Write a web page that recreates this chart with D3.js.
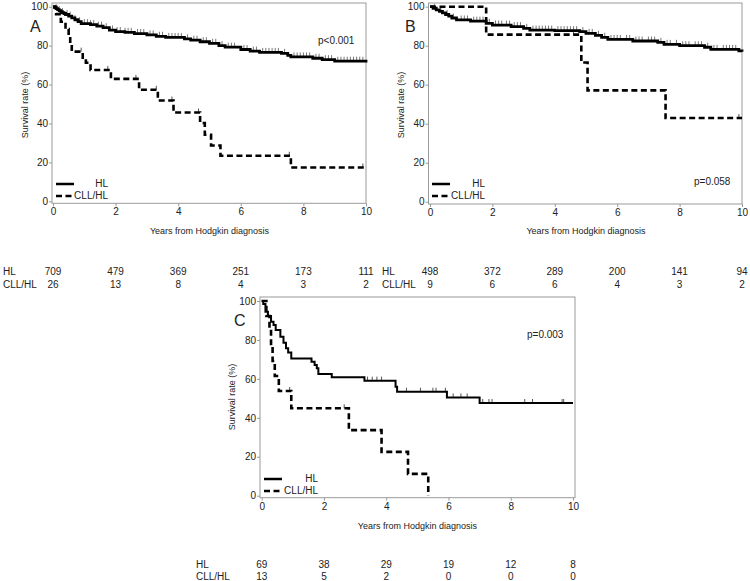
<!DOCTYPE html>
<html>
<head>
<meta charset="utf-8">
<script src="https://cdn.jsdelivr.net/npm/d3@7"></script>
<style>
  html, body { margin: 0; padding: 0; background: #fff; }
  svg { display: block; font-family: "Liberation Sans Narrow", "Liberation Sans", Arial, sans-serif; }
</style>
</head>
<body>
<svg id="chart" width="750" height="581"></svg>
<script>
// ---------- DATA ----------
const timeTicks = [0, 2, 4, 6, 8, 10];
const survTicks = [0, 20, 40, 60, 80, 100];
const groupNames = ["HL", "CLL/HL"];
const panelLetters = ["A", "B", "C"];
const pValues = ["p<0.001", "p=0.058", "p=0.003"];
const xTitle = "Years from Hodgkin diagnosis";
const yTitle = "Survival rate (%)";

// Panel A – Kaplan-Meier steps [years, survival %]
const A_hl = [[0,100],[0.05,99.5],[0.1,99],[0.15,98.5],[0.2,98],[0.25,97.5],[0.3,97],[0.35,96.5],[0.4,96],[0.5,95.2],[0.6,94.3],[0.7,93.3],[0.8,92.3],[0.9,91.3],[1.2,90.8],[1.4,90],[1.6,89.2],[1.8,88],[2.0,87.2],[2.3,86.8],[2.6,86.2],[3.0,85.5],[3.3,84.8],[3.6,84.2],[4.2,83.5],[4.4,82.8],[4.7,82],[5.0,81.2],[5.3,80],[5.5,79.2],[6.0,78],[6.3,77.2],[6.6,76.5],[7.3,76],[7.5,75],[7.6,74.2],[8.3,73.5],[8.6,72.8],[9.0,72],[10,71.3]];
const A_cll = [[0,100],[0.1,96.2],[0.25,92.3],[0.4,88.5],[0.5,84.6],[0.55,80.8],[0.6,76.9],[0.95,73.1],[1.05,71.2],[1.2,67.5],[1.85,62.9],[2.75,57.3],[3.35,51.8],[3.85,45.6],[4.7,40.2],[4.85,34.2],[5.05,28.7],[5.35,23.4],[7.6,17.4],[10,17.4]];
const A_hl_censor = [0.1,0.2,0.3,0.45,0.55,0.7,0.85,1.0,1.1,1.2,1.3,1.45,1.55,1.7,1.9,2.05,2.15,2.3,2.4,2.5,2.7,2.8,2.9,3.1,3.2,3.4,3.5,3.7,3.8,3.9,4.0,4.1,4.3,4.5,4.6,4.8,4.9,5.1,5.2,5.4,5.6,5.7,5.8,6.1,6.2,6.4,6.5,6.7,6.8,6.9,7.0,7.1,7.2,7.4,7.7,7.8,7.9,8.0,8.1,8.2,8.4,8.5,8.7,8.8,8.9,9.1,9.2,9.3,9.4,9.5,9.6,9.7,9.8,9.9];
const A_cll_censor = [0.9, 1.75, 2.65, 3.3, 3.8, 4.65, 7.55, 9.9];
const A_risk_hl = [709, 479, 369, 251, 173, 111];
const A_risk_cll = [26, 13, 8, 4, 3, 2];

// Panel B
const B_hl = [[0,100],[0.1,99.2],[0.2,98.4],[0.3,97.6],[0.4,96.8],[0.5,96],[0.6,95.2],[0.7,94.2],[0.85,93.2],[1.3,92.6],[1.8,91.5],[2.0,90.6],[2.6,89.8],[3.0,88.9],[3.2,88],[4.0,87.7],[4.8,87.2],[5.0,86.3],[5.3,85.3],[5.5,84.3],[5.7,83.2],[6.5,82.4],[7.3,81.7],[7.5,80.7],[8.0,80],[8.8,79.2],[9.0,78.1],[9.9,77.3],[10,76.9]];
const B_cll = [[0,100],[1.8,85.7],[4.85,71.4],[5.05,57.1],[7.55,42.9],[10,42.9]];
const B_hl_censor = [0.15,0.35,0.55,0.75,1.0,1.1,1.2,1.4,1.5,1.6,1.7,1.9,2.1,2.2,2.3,2.45,2.55,2.7,2.8,2.9,3.1,3.3,3.4,3.5,3.6,3.7,3.8,3.9,4.1,4.2,4.3,4.4,4.5,4.6,4.7,4.9,5.1,5.2,5.4,5.6,5.8,5.9,6.0,6.1,6.3,6.4,6.6,6.7,6.8,7.0,7.1,7.2,7.4,7.6,7.7,7.9,8.1,8.2,8.3,8.5,8.6,8.7,8.9,9.1,9.2,9.4,9.5,9.6,9.7,9.8];
const B_cll_censor = [4.6, 9.9];
const B_risk_hl = [498, 372, 289, 200, 141, 94];
const B_risk_cll = [9, 6, 6, 4, 3, 2];

// Panel C
const C_hl = [[0,100],[0.05,98.5],[0.12,94.5],[0.2,92.3],[0.3,89.4],[0.38,87.7],[0.45,85.1],[0.6,81.7],[0.7,78.6],[0.78,75.7],[0.85,73.5],[0.95,70.5],[1.6,68.8],[1.7,67.1],[1.77,65.4],[1.82,62.5],[2.25,60.8],[3.3,59.1],[4.3,56],[4.35,53.4],[5.95,50.5],[7.0,47.6],[10,47.6]];
const C_cll = [[0,100],[0.15,92.3],[0.25,84.6],[0.3,76.9],[0.35,69.2],[0.42,61.5],[0.55,53.8],[0.95,44.9],[2.8,33.7],[3.85,22.5],[4.7,11.2],[5.35,0]];
const C_hl_censor = [1.6, 3.4, 3.55, 3.7, 3.85, 4.65, 5.1, 5.5, 5.6, 5.9, 6.15, 6.4, 6.6, 7.1, 7.3, 7.4, 8.45, 8.7, 9.65, 9.7];
const C_cll_censor = [0.9, 2.65];
const C_risk_hl = [69, 38, 29, 19, 12, 8];
const C_risk_cll = [13, 5, 2, 0, 0, 0];

// ---------- LAYOUT ----------
const panels = [
  { hl: A_hl, cll: A_cll, hlC: A_hl_censor, cllC: A_cll_censor, rHl: A_risk_hl, rCll: A_risk_cll,
    x0: 53, x1: 366, yTop: 6.7, yBot: 201.3, frame: [52, 3, 366, 203.3],
    letter: [30, 32], pv: [318, 44], leg: [56, 184], legR: 108, yT: [26, 105], xT: 232,
    risk: { lx: 3, y1: 275, y2: 288 } },
  { hl: B_hl, cll: B_cll, hlC: B_hl_censor, cllC: B_cll_censor, rHl: B_risk_hl, rCll: B_risk_cll,
    x0: 430, x1: 742, yTop: 6.7, yBot: 201.7, frame: [428.5, 3, 742, 204],
    letter: [405, 32], pv: [694, 185], leg: [432, 184], legR: 485, yT: [402, 105], xT: 232,
    risk: { lx: 382, y1: 275, y2: 288 } },
  { hl: C_hl, cll: C_cll, hlC: C_hl_censor, cllC: C_cll_censor, rHl: C_risk_hl, rCll: C_risk_cll,
    x0: 261.7, x1: 573, yTop: 301, yBot: 495.7, frame: [260, 297, 575, 497.7],
    letter: [234, 326], pv: [527, 338], leg: [264, 479], legR: 318, yT: [233, 397], xT: 527,
    risk: { lx: 196, y1: 568, y2: 580 } }
];

const svg = d3.select("#chart");
const frameColor = "#9a9a9a";

function stepValue(data, t) {
  let v = data[0][1];
  for (const d of data) { if (d[0] <= t) v = d[1]; }
  return v;
}

panels.forEach((p, i) => {
  const g = svg.append("g");
  const x = d3.scaleLinear().domain([0, 10]).range([p.x0, p.x1]);
  const y = d3.scaleLinear().domain([0, 100]).range([p.yBot, p.yTop]);

  // frame
  const [fx0, fy0, fx1, fy1] = p.frame;
  g.append("rect").attr("x", fx0).attr("y", fy0).attr("width", fx1 - fx0).attr("height", fy1 - fy0)
    .attr("fill", "none").attr("stroke", frameColor).attr("stroke-width", 1);

  // axes
  const yAxis = d3.axisLeft(y).tickValues(survTicks).tickSize(3).tickPadding(1);
  const ya = g.append("g").attr("transform", `translate(${fx0},0)`).call(yAxis);
  const xAxis = d3.axisBottom(x).tickValues(timeTicks).tickSize(3).tickPadding(2);
  const xa = g.append("g").attr("transform", `translate(0,${fy1})`).call(xAxis);
  [ya, xa].forEach(a => {
    a.select(".domain").remove();
    a.selectAll(".tick line").attr("stroke", frameColor);
    a.selectAll(".tick text").attr("fill", "#222").style("font-size", "10px")
      .style("font-family", '"Liberation Sans Narrow","Liberation Sans",Arial,sans-serif');
  });

  // axis titles
  g.append("text").attr("transform", `translate(${p.yT[0]},${p.yT[1]}) rotate(-90)`)
    .attr("text-anchor", "middle").attr("dominant-baseline", "middle")
    .style("font-size", "9px").attr("fill", "#222").text(yTitle);
  g.append("text").attr("x", (p.x0 + p.x1) / 2).attr("y", p.xT)
    .attr("text-anchor", "middle").attr("dominant-baseline", "middle")
    .style("font-size", "9px").attr("fill", "#222").text(xTitle);

  // panel letter & p value
  g.append("text").attr("x", p.letter[0]).attr("y", p.letter[1])
    .style("font-size", "16px").attr("fill", "#222")
    .style("font-family", '"Liberation Sans",Arial,sans-serif').text(panelLetters[i]);
  g.append("text").attr("x", p.pv[0]).attr("y", p.pv[1])
    .style("font-size", "10px").attr("fill", "#222").text(pValues[i]);

  const line = d3.line().x(d => x(d[0])).y(d => y(d[1])).curve(d3.curveStepAfter);

  // censor ticks
  g.append("g").selectAll("line").data(p.hlC).join("line")
    .attr("x1", d => x(d)).attr("x2", d => x(d))
    .attr("y1", d => y(stepValue(p.hl, d)) - 0.5)
    .attr("y2", d => y(stepValue(p.hl, d)) - (i === 2 ? 4 : 4.5))
    .attr("stroke", i === 2 ? "#555" : "#777").attr("stroke-width", 1);
  g.append("g").selectAll("line").data(p.cllC).join("line")
    .attr("x1", d => x(d)).attr("x2", d => x(d))
    .attr("y1", d => y(stepValue(p.cll, d)))
    .attr("y2", d => y(stepValue(p.cll, d)) - 4)
    .attr("stroke", "#555").attr("stroke-width", 1);

  // curves
  g.append("path").datum(p.hl).attr("d", line).attr("fill", "none")
    .attr("stroke", "#000").attr("stroke-width", i === 2 ? 2 : 2.8);
  g.append("path").datum(p.cll).attr("d", line).attr("fill", "none")
    .attr("stroke", "#000").attr("stroke-width", 2.6).attr("stroke-dasharray", "6,3.5");

  // legend
  const [lx, ly] = p.leg;
  g.append("line").attr("x1", lx).attr("x2", lx + 18).attr("y1", ly).attr("y2", ly)
    .attr("stroke", "#000").attr("stroke-width", 2.5);
  g.append("line").attr("x1", lx).attr("x2", lx + 18).attr("y1", ly + 12).attr("y2", ly + 12)
    .attr("stroke", "#000").attr("stroke-width", 2.5).attr("stroke-dasharray", "6,3.5");
  g.append("text").attr("x", p.legR).attr("y", ly).attr("text-anchor", "end")
    .attr("dominant-baseline", "middle").style("font-size", "10px").attr("fill", "#222").text(groupNames[0]);
  g.append("text").attr("x", p.legR).attr("y", ly + 12).attr("text-anchor", "end")
    .attr("dominant-baseline", "middle").style("font-size", "10px").attr("fill", "#222").text(groupNames[1]);

  // numbers at risk
  const r = p.risk;
  g.append("text").attr("x", r.lx).attr("y", r.y1).style("font-size", "10px").attr("fill", "#222").text(groupNames[0]);
  g.append("text").attr("x", r.lx).attr("y", r.y2).style("font-size", "10px").attr("fill", "#222").text(groupNames[1]);
  g.append("g").selectAll("text").data(p.rHl).join("text")
    .attr("x", (d, k) => x(timeTicks[k])).attr("y", r.y1).attr("text-anchor", "middle")
    .style("font-size", "10px").attr("fill", "#222").text(d => d);
  g.append("g").selectAll("text").data(p.rCll).join("text")
    .attr("x", (d, k) => x(timeTicks[k])).attr("y", r.y2).attr("text-anchor", "middle")
    .style("font-size", "10px").attr("fill", "#222").text(d => d);
});
</script>
</body>
</html>
